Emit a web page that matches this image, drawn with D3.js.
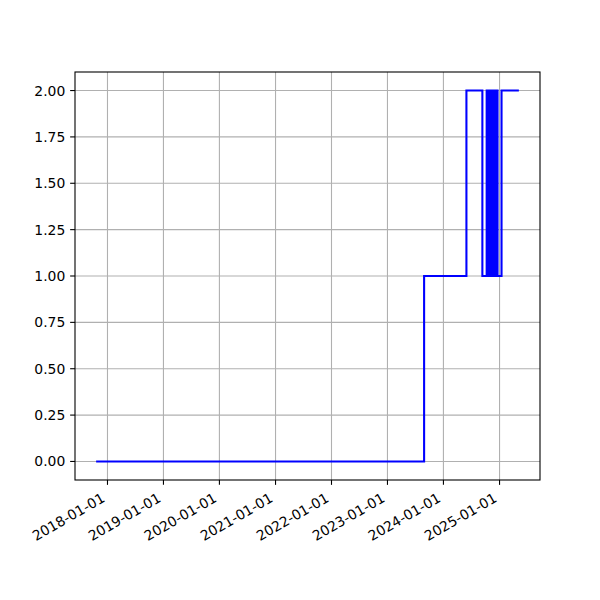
<!DOCTYPE html>
<html><head><meta charset="utf-8">
<script src="https://cdn.jsdelivr.net/npm/d3@7"></script>
<style>body{margin:0;background:#fff}svg{display:block}text{font-family:"DejaVu Sans",sans-serif;font-size:13.9px;fill:#000}</style>
</head><body><svg id="c" width="600" height="600"></svg>
<script>
const dates = ["2017-10-19","2023-08-28","2024-05-30","2024-09-11",
"2024-10-09","2024-10-11","2024-10-13","2024-10-15","2024-10-17","2024-10-19","2024-10-21","2024-10-23",
"2024-10-25","2024-10-27","2024-10-29","2024-10-31","2024-11-02","2024-11-04","2024-11-06","2024-11-08",
"2024-11-10","2024-11-12","2024-11-14","2024-11-16","2024-11-18","2024-11-20","2024-11-22","2024-11-24",
"2024-11-26","2024-11-28","2024-11-30","2024-12-02","2024-12-05",
"2024-12-14","2024-12-19","2025-01-14","2025-05-07"];
const values = [0,1,2,1,
2,1,2,1,2,1,2,1,
2,1,2,1,2,1,2,1,
2,1,2,1,2,1,2,1,
2,1,2,1,1,
2,1,2,2];
const yTicks = [0,0.25,0.5,0.75,1,1.25,1.5,1.75,2];
const xTickYears = ["2018-01-01","2019-01-01","2020-01-01","2021-01-01","2022-01-01","2023-01-01","2024-01-01","2025-01-01"];

const parse = d3.utcParse("%Y-%m-%d");
const data = dates.map((d,i)=>({t:parse(d),v:values[i]}));
const L=75,R=540,T=72,B=480;
const svg = d3.select("#c");
const ext = d3.extent(data,d=>d.t);
const span = ext[1]-ext[0];
const x = d3.scaleUtc().domain([new Date(+ext[0]-span*0.05), new Date(+ext[1]+span*0.05)]).range([L,R]);
const y = d3.scaleLinear().domain([-0.1,2.1]).range([B,T]);
const xt = xTickYears.map(parse);

// grid
const g = svg.append("g");
g.selectAll(".gx").data(xt).join("line").attr("x1",d=>x(d)).attr("x2",d=>x(d)).attr("y1",T).attr("y2",B)
 .attr("stroke","#b0b0b0").attr("stroke-width",1.1);
g.selectAll(".gy").data(yTicks).join("line").attr("y1",d=>y(d)).attr("y2",d=>y(d)).attr("x1",L).attr("x2",R)
 .attr("stroke","#b0b0b0").attr("stroke-width",1.1);

// line
const line = d3.line().x(d=>x(d.t)).y(d=>y(d.v)).curve(d3.curveStepAfter);
svg.append("path").datum(data).attr("d",line).attr("fill","none").attr("stroke","#0000ff").attr("stroke-width",2.08);

// frame
svg.append("rect").attr("x",L).attr("y",T).attr("width",R-L).attr("height",B-T)
 .attr("fill","none").attr("stroke","#000").attr("stroke-width",1.1);

// y axis ticks
const ya = svg.append("g");
ya.selectAll("line").data(yTicks).join("line").attr("x1",L-4.86).attr("x2",L).attr("y1",d=>y(d)).attr("y2",d=>y(d))
 .attr("stroke","#000").attr("stroke-width",1.1);
ya.selectAll("text").data(yTicks).join("text").attr("x",L-4.86-4.86).attr("y",d=>y(d)).attr("dy","0.36em")
 .attr("text-anchor","end").text(d=>d3.format(".2f")(d));

// x axis ticks
const xa = svg.append("g");
xa.selectAll("line").data(xt).join("line").attr("x1",d=>x(d)).attr("x2",d=>x(d)).attr("y1",B).attr("y2",B+4.86)
 .attr("stroke","#000").attr("stroke-width",1.1);
const fmt = d3.utcFormat("%Y-%m-%d");
const h = 16.2;
xa.selectAll("text").data(xt).join("text")
 .attr("transform",d=>`translate(${x(d)},${B+9.72+0.866*h}) rotate(-30)`)
 .attr("y",-3.3).attr("text-anchor","end").text(d=>fmt(d));
</script></body></html>
